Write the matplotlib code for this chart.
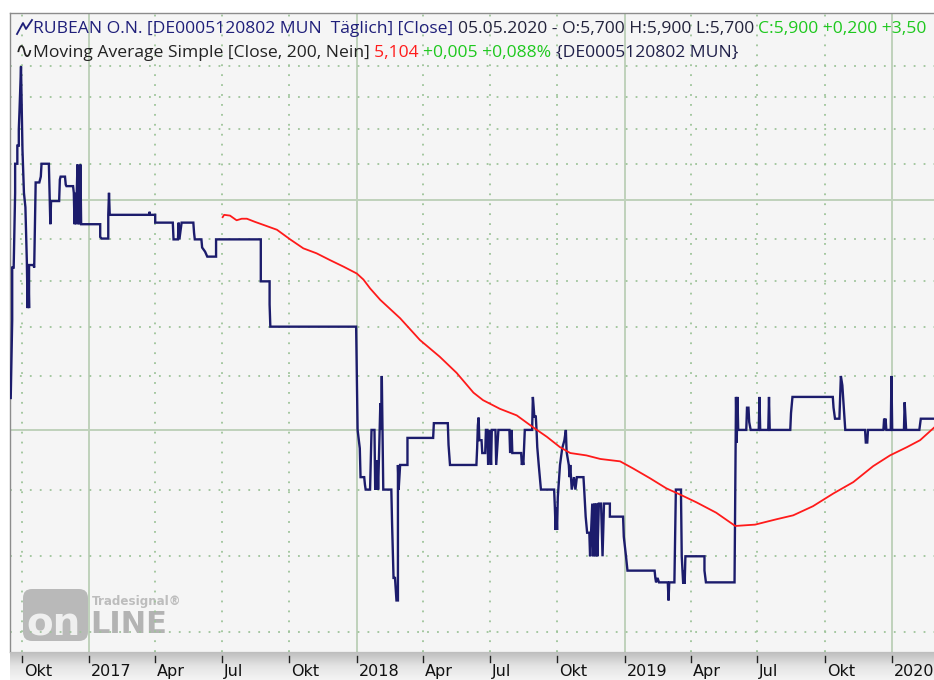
import matplotlib
matplotlib.use('Agg')
import matplotlib.pyplot as plt
import numpy as np
import pandas as pd
from matplotlib.patches import FancyBboxPatch
from matplotlib.lines import Line2D
from matplotlib.transforms import IdentityTransform, offset_copy
from matplotlib.ticker import NullLocator
from matplotlib.colors import LinearSegmentedColormap

# ---------------- data ----------------
price_dates = [
    "2016-09-16", "2016-09-18", "2016-09-18", "2016-09-20", "2016-09-22", "2016-09-22", "2016-09-25", "2016-09-25",
    "2016-09-27", "2016-09-27", "2016-09-28", "2016-09-30", "2016-10-01", "2016-10-02", "2016-10-04", "2016-10-06",
    "2016-10-08", "2016-10-09", "2016-10-10", "2016-10-11", "2016-10-11", "2016-10-17", "2016-10-18", "2016-10-19",
    "2016-10-20", "2016-10-25", "2016-10-26", "2016-10-27", "2016-10-28", "2016-11-07", "2016-11-08", "2016-11-09",
    "2016-11-10", "2016-11-21", "2016-11-22", "2016-11-23", "2016-11-29", "2016-11-30", "2016-12-01", "2016-12-10",
    "2016-12-11", "2016-12-12", "2016-12-13", "2016-12-14", "2016-12-15", "2016-12-16", "2016-12-17", "2016-12-18",
    "2016-12-19", "2016-12-20", "2016-12-21", "2017-01-16", "2017-01-16", "2017-01-18", "2017-01-27", "2017-01-27",
    "2017-01-28", "2017-01-29", "2017-03-24", "2017-03-24", "2017-03-25", "2017-04-01", "2017-04-01", "2017-04-25",
    "2017-04-26", "2017-05-02", "2017-05-03", "2017-05-04", "2017-05-07", "2017-05-23", "2017-05-24", "2017-05-25",
    "2017-06-03", "2017-06-04", "2017-06-08", "2017-06-11", "2017-06-23", "2017-06-23", "2017-08-23", "2017-08-23",
    "2017-09-04", "2017-09-04", "2017-09-05", "2017-12-31", "2018-01-02", "2018-01-05", "2018-01-06", "2018-01-11",
    "2018-01-12", "2018-01-13", "2018-01-19", "2018-01-20", "2018-01-21", "2018-01-25", "2018-01-26", "2018-01-27",
    "2018-01-28", "2018-01-29", "2018-01-30", "2018-01-31", "2018-02-02", "2018-02-03", "2018-02-04", "2018-02-05",
    "2018-02-06", "2018-02-17", "2018-02-18", "2018-02-20", "2018-02-22", "2018-02-24", "2018-02-26", "2018-02-26",
    "2018-02-27", "2018-02-28", "2018-03-01", "2018-03-11", "2018-03-11", "2018-04-15", "2018-04-16", "2018-05-05",
    "2018-05-06", "2018-05-08", "2018-06-13", "2018-06-14", "2018-06-15", "2018-06-16", "2018-06-17", "2018-06-20",
    "2018-06-21", "2018-06-25", "2018-06-26", "2018-06-28", "2018-06-29", "2018-07-01", "2018-07-03", "2018-07-04",
    "2018-07-09", "2018-07-10", "2018-07-13", "2018-07-28", "2018-07-29", "2018-07-31", "2018-08-01", "2018-08-13",
    "2018-08-14", "2018-08-15", "2018-08-16", "2018-08-18", "2018-08-28", "2018-08-29", "2018-08-31", "2018-09-02",
    "2018-09-03", "2018-09-04", "2018-09-06", "2018-09-09", "2018-09-27", "2018-09-28", "2018-09-29", "2018-09-30",
    "2018-10-01", "2018-10-02", "2018-10-05", "2018-10-08", "2018-10-11", "2018-10-13", "2018-10-14", "2018-10-17",
    "2018-10-18", "2018-10-19", "2018-10-21", "2018-10-24", "2018-10-26", "2018-10-28", "2018-11-06", "2018-11-07",
    "2018-11-09", "2018-11-11", "2018-11-14", "2018-11-15", "2018-11-18", "2018-11-19", "2018-11-21", "2018-11-22",
    "2018-11-24", "2018-11-25", "2018-11-27", "2018-11-30", "2018-12-02", "2018-12-04", "2018-12-12", "2018-12-12",
    "2018-12-30", "2018-12-31", "2019-01-03", "2019-01-05", "2019-02-11", "2019-02-12", "2019-02-13", "2019-02-15",
    "2019-02-17", "2019-03-01", "2019-03-02", "2019-03-03", "2019-03-10", "2019-03-11", "2019-03-12", "2019-03-19",
    "2019-03-19", "2019-03-20", "2019-03-22", "2019-03-23", "2019-03-24", "2019-03-25", "2019-04-20", "2019-04-20",
    "2019-04-22", "2019-05-31", "2019-06-01", "2019-06-02", "2019-06-03", "2019-06-04", "2019-06-05", "2019-06-16",
    "2019-06-17", "2019-06-19", "2019-06-20", "2019-06-22", "2019-07-03", "2019-07-04", "2019-07-05", "2019-07-16",
    "2019-07-17", "2019-07-18", "2019-08-15", "2019-08-16", "2019-08-18", "2019-10-12", "2019-10-13", "2019-10-15",
    "2019-10-21", "2019-10-22", "2019-10-23", "2019-10-25", "2019-10-26", "2019-10-27", "2019-10-29", "2019-11-25",
    "2019-11-26", "2019-11-28", "2019-11-29", "2019-12-20", "2019-12-21", "2019-12-22", "2019-12-23", "2019-12-24",
    "2019-12-30", "2019-12-31", "2020-01-01", "2020-01-17", "2020-01-18", "2020-01-19", "2020-01-20", "2020-02-07",
    "2020-02-09", "2020-03-15",
]
price_values = [
    5.29, 6.07, 6.66, 6.66, 7.60, 8.00, 8.00, 8.26,
    8.26, 8.50, 8.80, 9.50, 8.80, 8.20, 7.60, 7.41,
    6.72, 6.20, 6.69, 6.20, 6.69, 6.69, 6.66, 7.21,
    7.74, 7.74, 7.78, 7.82, 8.00, 8.00, 7.57, 7.19,
    7.49, 7.49, 7.78, 7.82, 7.82, 7.71, 7.69, 7.69,
    7.60, 7.19, 7.60, 7.19, 7.60, 7.99, 7.19, 7.60,
    7.19, 7.99, 7.19, 7.19, 7.03, 7.01, 7.01, 7.31,
    7.60, 7.31, 7.31, 7.35, 7.31, 7.31, 7.21, 7.21,
    7.00, 7.00, 7.21, 7.00, 7.21, 7.21, 7.08, 7.00,
    7.00, 6.90, 6.85, 6.79, 6.79, 7.00, 7.00, 6.50,
    6.50, 6.24, 6.00, 6.00, 5.00, 4.84, 4.60, 4.60,
    4.54, 4.50, 4.50, 4.74, 5.00, 5.00, 4.50, 4.74,
    4.50, 4.74, 4.50, 4.74, 5.24, 5.00, 5.50, 4.98,
    4.50, 4.50, 4.24, 3.85, 3.85, 3.70, 3.70, 4.70,
    4.50, 4.60, 4.70, 4.70, 4.93, 4.93, 5.06, 5.06,
    4.87, 4.70, 4.70, 4.84, 5.04, 5.11, 4.91, 4.91,
    4.80, 4.80, 5.00, 5.00, 4.70, 5.00, 4.70, 5.00,
    5.00, 4.70, 5.00, 5.00, 4.80, 5.00, 4.80, 4.80,
    4.70, 4.74, 4.70, 5.00, 5.00, 5.30, 5.12, 5.12,
    5.00, 4.85, 4.70, 4.50, 4.50, 4.36, 4.19, 4.36,
    4.19, 4.44, 4.70, 4.84, 4.91, 5.00, 4.81, 4.70,
    4.60, 4.70, 4.50, 4.60, 4.50, 4.60, 4.60, 4.50,
    4.29, 4.17, 4.17, 4.00, 4.39, 4.00, 4.39, 4.00,
    4.39, 4.00, 4.39, 4.39, 4.00, 4.39, 4.39, 4.29,
    4.29, 4.14, 4.00, 3.90, 3.90, 3.85, 3.82, 3.85,
    3.82, 3.82, 3.70, 3.82, 3.82, 4.14, 4.50, 4.50,
    4.46, 4.00, 3.81, 3.90, 3.81, 4.00, 4.00, 3.90,
    3.82, 3.82, 4.48, 5.30, 4.89, 5.30, 5.00, 5.00,
    5.20, 5.20, 5.07, 5.00, 5.00, 5.30, 5.00, 5.00,
    5.30, 5.00, 5.00, 5.15, 5.30, 5.30, 5.20, 5.10,
    5.10, 5.30, 5.50, 5.41, 5.30, 5.20, 5.00, 5.00,
    4.89, 4.89, 5.00, 5.00, 5.10, 5.00, 5.10, 5.00,
    5.00, 5.50, 5.00, 5.00, 5.25, 5.12, 5.00, 5.00,
    5.10, 5.10,
]

ma_dates = [
    "2017-07-02", "2017-07-04", "2017-07-12", "2017-07-21", "2017-07-28", "2017-08-04", "2017-08-15", "2017-08-27",
    "2017-09-14", "2017-10-02", "2017-10-20", "2017-11-07", "2017-11-25", "2017-12-14", "2018-01-01", "2018-01-10",
    "2018-01-19", "2018-02-02", "2018-03-01", "2018-03-28", "2018-04-24", "2018-05-17", "2018-06-09", "2018-06-22",
    "2018-07-15", "2018-08-07", "2018-08-30", "2018-09-17", "2018-10-05", "2018-10-19", "2018-11-10", "2018-11-29",
    "2018-12-26", "2019-01-13", "2019-02-05", "2019-02-27", "2019-03-18", "2019-04-09", "2019-05-06", "2019-06-01",
    "2019-06-28", "2019-07-27", "2019-08-19", "2019-09-15", "2019-10-13", "2019-11-09", "2019-12-06", "2019-12-29",
    "2020-01-21", "2020-02-08", "2020-02-27",
]
ma_values = [
    7.28, 7.31, 7.30, 7.24, 7.26, 7.26, 7.22, 7.18,
    7.12, 7.00, 6.89, 6.83, 6.75, 6.67, 6.59, 6.52,
    6.42, 6.29, 6.09, 5.86, 5.69, 5.53, 5.34, 5.27,
    5.19, 5.13, 5.02, 4.94, 4.85, 4.80, 4.78, 4.75,
    4.73, 4.67, 4.59, 4.51, 4.46, 4.40, 4.32, 4.22,
    4.23, 4.27, 4.30, 4.37, 4.47, 4.56, 4.69, 4.78,
    4.85, 4.91, 5.02,
]

tick_dates = ["2016-10-01", "2017-01-01", "2017-04-01", "2017-07-01", "2017-10-01", "2018-01-01", "2018-04-01",
              "2018-07-01", "2018-10-01", "2019-01-01", "2019-04-01", "2019-07-01", "2019-10-01", "2020-01-01"]
tick_labels = ["Okt", "2017", "Apr", "Jul", "Okt", "2018", "Apr", "Jul", "Okt", "2019", "Apr", "Jul", "Okt", "2020"]
major_levels = [5.0, 7.5]
minor_levels = [3.5, 4.0, 4.5, 5.5, 6.0, 6.5, 7.0, 8.0, 8.5, 9.0, 9.5]

header1 = [("RUBEAN O.N. [DE0005120802 MUN  Täglich] [Close] ", "#1f1f7a"),
           ("05.05.2020 - O:5,700 H:5,900 L:5,700 ", "#23233c"),
           ("C:5,900 +0,200 +3,50", "#1ec81e")]
header2 = [("Moving Average Simple [Close, 200, Nein] ", "#222222"),
           ("5,104 ", "#ff1c1c"),
           ("+0,005 +0,088% ", "#1ec81e"),
           ("{DE0005120802 MUN}", "#20204a")]

# ---------------- layout ----------------
W, H = 934, 680
fig = plt.figure(figsize=(W / 100, H / 100), dpi=100)
fig.patch.set_facecolor("white")

L, T, B = 10, 13, 652
ax = fig.add_axes([L / W, (H - B) / H, 1 - L / W, (B - T) / H])
ax.set_facecolor("#f5f5f5")
ax.set_yscale("log")
ax.set_ylim(3.378, 10.44)
xmin, xmax = pd.Timestamp("2016-09-15"), pd.Timestamp("2020-02-27")
ax.set_xlim(xmin, xmax)
for a in (ax.xaxis, ax.yaxis):
    a.set_major_locator(NullLocator())
    a.set_minor_locator(NullLocator())
ax.tick_params(which="both", length=0, labelleft=False, labelbottom=False)
for s in ("left", "top"):
    ax.spines[s].set_color("#8c8c8c")
    ax.spines[s].set_linewidth(1.0)
ax.spines["bottom"].set_color("#6e6e6e")
ax.spines["right"].set_visible(False)

grid_solid = "#bfd2bb"
grid_dot = "#9ec49a"
for d, lab in zip(tick_dates, tick_labels):
    if lab.isdigit():
        ax.axvline(pd.Timestamp(d), color=grid_solid, lw=1.4, zorder=1)
    else:
        ax.axvline(pd.Timestamp(d), color=grid_dot, lw=1.3, ls=(0, (1, 4.5)), zorder=1)
for v in major_levels:
    ax.axhline(v, color=grid_solid, lw=1.4, zorder=1)
for v in minor_levels:
    ax.axhline(v, color=grid_dot, lw=1.3, ls=(0, (1, 4.5)), zorder=1)

# watermark (behind grid)
px = IdentityTransform()
box = FancyBboxPatch((23, H - 641), 65, 52, boxstyle="round,pad=0,rounding_size=9",
                     transform=px, facecolor="#b9b9b9", edgecolor="none", zorder=0.5, clip_on=False)
ax.add_artist(box)
ax.text(26, H - 635, "on", transform=px, fontsize=28, fontweight="bold", color="#efefef",
        family="DejaVu Sans", ha="left", va="baseline", zorder=0.6)
ax.text(90, H - 633, "LINE", transform=px, fontsize=22, fontweight="bold", color="#b3b3b3",
        family="DejaVu Sans", ha="left", va="baseline", zorder=0.6)
ax.text(92, H - 605, "Tradesignal®", transform=px, fontsize=8.6, fontweight="bold", color="#bdbdbd",
        family="DejaVu Sans", ha="left", va="baseline", zorder=0.6)

# series
ax.plot(pd.to_datetime(price_dates), price_values, color="#1c1c6c", lw=1.7, zorder=3,
        solid_joinstyle="miter")
ax.plot(pd.to_datetime(ma_dates), ma_values, color="#ff1a1a", lw=1.3, zorder=4)

# x-axis strip
ax2 = fig.add_axes([L / W, 0, 1 - L / W, (H - B) / H])
grad = np.linspace(0, 1, 64).reshape(-1, 1)
cm = LinearSegmentedColormap.from_list("strip", ["#f4f4f4", "#e4e4e4", "#bebebe"])
ax2.imshow(grad, cmap=cm, aspect="auto", extent=[0, 1, 1, 0], transform=ax2.transAxes, zorder=0)
ax2.set_xlim(xmin, xmax)
ax2.set_ylim(0, 1)
for s in ax2.spines.values():
    s.set_visible(False)
ax2.xaxis.set_major_locator(NullLocator())
ax2.yaxis.set_major_locator(NullLocator())
for d, lab in zip(tick_dates, tick_labels):
    x = pd.Timestamp(d)
    ax2.plot([x, x], [0.64, 0.86], color="#222222", lw=1.0, zorder=2)
    ax2.text(x, 0.04, lab, transform=offset_copy(ax2.transData, fig=fig, x=2, y=0, units="dots"),
             fontsize=11.5, family=["Liberation Sans Narrow", "DejaVu Sans"], color="#111111",
             ha="left", va="bottom", zorder=3)

# header text
renderer = fig.canvas.get_renderer()
hfont = ["Open Sans", "DejaVu Sans"]


def put_row(segments, x0, ybase, size):
    x = x0
    for txt, col in segments:
        t = fig.text(x, H - ybase, txt, transform=px, fontsize=size, family=hfont, color=col,
                     ha="left", va="baseline", zorder=10)
        x = t.get_window_extent(renderer).x1
    return x


put_row(header1, 33, 33, 12.6)
put_row(header2, 33, 57, 12.6)

# header icons
fig.add_artist(Line2D([17, 23, 26, 32], [H - 34, H - 23, H - 29, H - 20], transform=px,
                      color="#1f1f7a", lw=1.3))
fig.text(15, H - 58, "∿", transform=px, fontsize=16, family="DejaVu Sans", color="#222222",
         ha="left", va="baseline")

fig.savefig("out.png", dpi=100, facecolor="white")
